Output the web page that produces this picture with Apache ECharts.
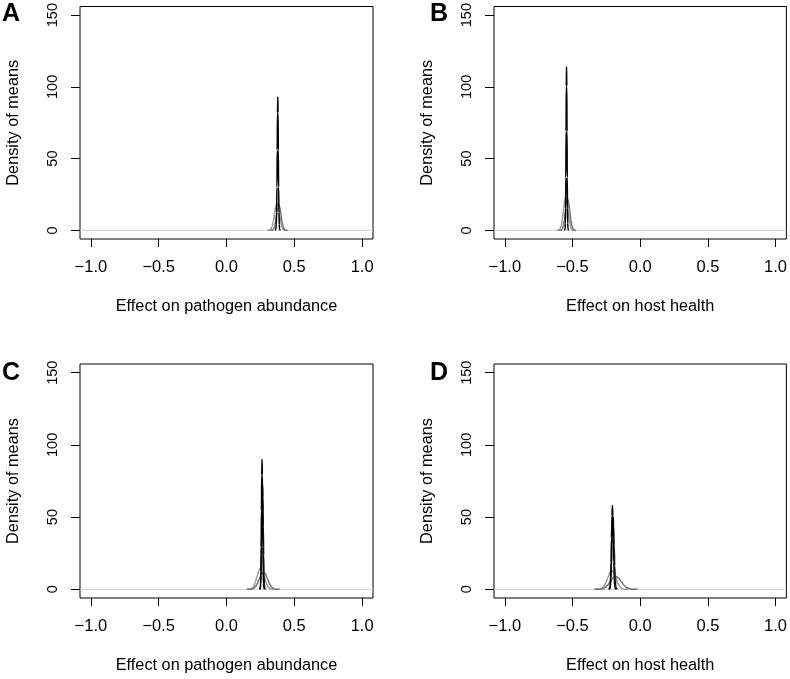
<!DOCTYPE html>
<html><head><meta charset="utf-8">
<script src="https://cdn.jsdelivr.net/npm/echarts@6/dist/echarts.min.js"></script>
<style>html,body{margin:0;padding:0;background:#fff}#c{width:790px;height:679px}</style>
</head><body><div id="c"></div>
<script>
// ---- tick labels / titles ----
const xTicks = [-1, -0.5, 0, 0.5, 1];
const yTicks = [0, 50, 100, 150];
const panelLetters = ['A', 'B', 'C', 'D'];
const xTitles = ['Effect on pathogen abundance', 'Effect on host health', 'Effect on pathogen abundance', 'Effect on host health'];
const yTitle = 'Density of means';

// ---- Panel A curves ----
const aBlackX = [0.361,0.365,0.367,0.369,0.372,0.374,0.376,0.378,0.380,0.382,0.384,0.387,0.389,0.391,0.395];
const aBlackY = [0,1,4,12.6,30,56,82,93,82,56,30,12.6,4,1,0];
const aGray1X = [0.300,0.318,0.327,0.336,0.345,0.354,0.363,0.372,0.381,0.390,0.399,0.408,0.417,0.426,0.444];
const aGray1Y = [0,0.2,0.8,2.6,6.2,11.5,16.8,19,16.8,11.5,6.2,2.6,0.8,0.2,0];
const aGray2X = [0.322,0.338,0.346,0.354,0.362,0.370,0.378,0.386,0.394,0.402,0.410,0.418,0.426,0.434,0.450];
const aGray2Y = [0,0.2,0.8,2.4,5.8,10.9,15.9,18,15.9,10.9,5.8,2.4,0.8,0.2,0];

// ---- Panel B curves ----
const bBlackX = [-0.558,-0.5545,-0.5528,-0.551,-0.5493,-0.5475,-0.5458,-0.544,-0.5422,-0.5405,-0.5388,-0.537,-0.5353,-0.5335,-0.530];
const bBlackY = [0,1.3,5,15.4,37,69,100.6,114,100.6,69,37,15.4,5,1.3,0];
const bGray1X = [-0.618,-0.601,-0.5925,-0.584,-0.5755,-0.567,-0.5585,-0.550,-0.5415,-0.533,-0.5245,-0.516,-0.5075,-0.499,-0.482];
const bGray1Y = [0,0.3,1,3.1,7.5,13.9,20.3,23,20.3,13.9,7.5,3.1,1,0.3,0];
const bGray2X = [-0.600,-0.584,-0.576,-0.568,-0.560,-0.552,-0.544,-0.536,-0.528,-0.520,-0.512,-0.504,-0.496,-0.488,-0.472];
const bGray2Y = [0,0.2,1,3,7.1,13.3,19.4,22,19.4,13.3,7.1,3,1,0.2,0];

// ---- Panel C curves ----
const cBlack1X = [0.2444,0.2488,0.251,0.2532,0.2554,0.2576,0.2598,0.262,0.2642,0.2664,0.2686,0.2708,0.273,0.2752,0.2796];
const cBlack1Y = [0,1,4,12.2,29.2,54.6,79.4,90,79.4,54.6,29.2,12.2,4,1,0];
const cBlack2X = [0.244,0.2495,0.2523,0.255,0.2578,0.2605,0.2633,0.266,0.2688,0.2715,0.2743,0.277,0.2798,0.2825,0.288];
const cBlack2Y = [0,0.8,3.2,9.7,23.4,43.7,63.5,72,63.5,43.7,23.4,9.7,3.2,0.8,0];
const cGray1X = [0.148,0.174,0.187,0.200,0.213,0.226,0.239,0.252,0.265,0.278,0.291,0.304,0.317,0.330,0.356];
const cGray1Y = [0,0.2,0.7,2,4.9,9.1,13.2,15,13.2,9.1,4.9,2,0.7,0.2,0];
const cGray2X = [0.152,0.182,0.197,0.212,0.227,0.242,0.257,0.272,0.287,0.302,0.317,0.332,0.347,0.362,0.392];
const cGray2Y = [0,0.1,0.5,1.6,3.9,7.3,10.6,12,10.6,7.3,3.9,1.6,0.5,0.1,0];

// ---- Panel D curves ----
const dBlack1X = [-0.2326,-0.2257,-0.2223,-0.2188,-0.2154,-0.2119,-0.2085,-0.205,-0.2016,-0.1981,-0.1947,-0.1912,-0.1878,-0.1843,-0.1774];
const dBlack1Y = [0,0.6,2.5,7.8,18.8,35.2,51.2,58,51.2,35.2,18.8,7.8,2.5,0.6,0];
const dBlack2X = [-0.232,-0.224,-0.220,-0.216,-0.212,-0.208,-0.204,-0.200,-0.196,-0.192,-0.188,-0.184,-0.180,-0.176,-0.168];
const dBlack2Y = [0,0.6,2.2,6.8,16.2,30.3,44.1,50,44.1,30.3,16.2,6.8,2.2,0.6,0];
const dGray1X = [-0.330,-0.300,-0.285,-0.270,-0.255,-0.240,-0.225,-0.210,-0.195,-0.180,-0.165,-0.150,-0.135,-0.120,-0.090];
const dGray1Y = [0,0.1,0.6,1.8,4.2,7.9,11.5,13,11.5,7.9,4.2,1.8,0.6,0.1,0];
const dGray2X = [-0.340,-0.300,-0.280,-0.260,-0.240,-0.220,-0.200,-0.180,-0.160,-0.140,-0.120,-0.100,-0.080,-0.060,-0.020];
const dGray2Y = [0,0.1,0.4,1.2,2.9,5.5,7.9,9,7.9,5.5,2.9,1.2,0.4,0.1,0];

// baseline (density tails at zero across the range)
const baseX = [-1.08, 1.08];
const baseY = [0, 0];

// ---- build chart ----
const FONT = '"Liberation Sans", Arial, Helvetica, sans-serif';
const gridPos = [
  {left: 80, top: 5}, {left: 494, top: 5}, {left: 80, top: 364}, {left: 494, top: 364}
];
const letterPos = [
  {left: 2, top: 2}, {left: 430, top: 2}, {left: 2, top: 361}, {left: 430, top: 361}
];
const panels = [
  [[aGray1X, aGray1Y, '#999999'], [aGray2X, aGray2Y, '#707070'], [aBlackX, aBlackY, '#000000']],
  [[bGray1X, bGray1Y, '#999999'], [bGray2X, bGray2Y, '#707070'], [bBlackX, bBlackY, '#000000']],
  [[cGray1X, cGray1Y, '#999999'], [cGray2X, cGray2Y, '#707070'], [cBlack2X, cBlack2Y, '#222222'], [cBlack1X, cBlack1Y, '#000000']],
  [[dGray1X, dGray1Y, '#999999'], [dGray2X, dGray2Y, '#707070'], [dBlack2X, dBlack2Y, '#222222'], [dBlack1X, dBlack1Y, '#000000']]
];
const zip = (xs, ys) => xs.map((x, i) => [x, ys[i]]);
const fmtX = v => (v < 0 ? '\u2212' : '') + Math.abs(v).toFixed(1);

const grid = [], xAxis = [], yAxis = [], series = [], graphic = [];
gridPos.forEach((g, i) => {
  grid.push({left: g.left, top: g.top, width: 293, height: 234, show: true,
    borderColor: '#000', borderWidth: 1, backgroundColor: 'transparent', containLabel: false});
  xAxis.push({type: 'value', gridIndex: i, min: -1.08, max: 1.08, position: 'bottom',
    splitLine: {show: false}, axisLine: {show: false, onZero: false},
    axisTick: {show: true, customValues: xTicks, length: 8, lineStyle: {color: '#000', width: 1}},
    axisLabel: {show: true, customValues: xTicks, formatter: fmtX, margin: 20,
      fontFamily: FONT, fontSize: 16.5, color: '#000'},
    name: xTitles[i], nameLocation: 'middle', nameGap: 60,
    nameTextStyle: {fontFamily: FONT, fontSize: 16.3, color: '#000'}});
  yAxis.push({type: 'value', gridIndex: i, min: -6, max: 156, position: 'left',
    splitLine: {show: false}, axisLine: {show: false, onZero: false},
    axisTick: {show: true, customValues: yTicks, length: 9, lineStyle: {color: '#000', width: 1}},
    axisLabel: {show: true, customValues: yTicks, rotate: 90, margin: 20,
      fontFamily: FONT, fontSize: 14.5, color: '#000'},
    name: yTitle, nameLocation: 'middle', nameGap: 58, nameRotate: 90,
    nameTextStyle: {fontFamily: FONT, fontSize: 16.3, color: '#000'}});
  series.push({type: 'line', xAxisIndex: i, yAxisIndex: i, data: zip(baseX, baseY),
    showSymbol: false, silent: true, lineStyle: {color: '#d0d0d0', width: 1}});
  panels[i].forEach(c => {
    series.push({type: 'line', xAxisIndex: i, yAxisIndex: i, data: zip(c[0], c[1]),
      showSymbol: false, smooth: 0.35, smoothMonotone: 'x', silent: true,
      lineStyle: {color: c[2], width: 1.5}});
  });
  graphic.push({type: 'text', left: letterPos[i].left, top: letterPos[i].top,
    style: {text: panelLetters[i], fontFamily: FONT, fontSize: 25, fontWeight: 'bold', fill: '#000'}});
});

const chart = echarts.init(document.getElementById('c'), null, {renderer: 'canvas'});
chart.setOption({animation: false, backgroundColor: '#fff', grid, xAxis, yAxis, series, graphic});
</script>
</body></html>
